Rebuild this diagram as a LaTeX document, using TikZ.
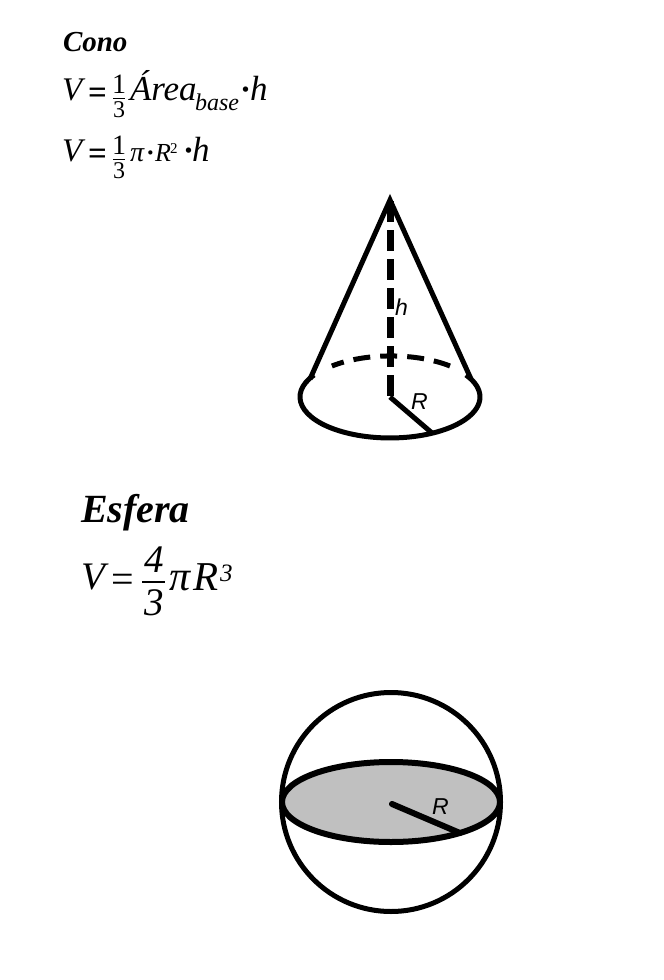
\documentclass[tikz,border=0pt]{standalone}
\usepackage{fontspec}
\setmainfont{Liberation Serif}
\newfontfamily\lsans{Liberation Sans}
\newcommand{\fs}[1]{\fontsize{#1}{#1}\selectfont}
\tikzset{
 txt/.style={inner sep=0pt,outer sep=0pt,anchor=base west},
 ser/.style={txt,font=\fs{#1}\itshape},
 upr/.style={txt,font=\fs{#1}},
 bld/.style={txt,font=\fs{#1}\bfseries},
 lab/.style={txt,font=\fs{#1}\lsans\itshape},
 solid line/.style={line width=5pt,black},
 hidden dash/.style={line width=5pt,black,dash pattern=on 17pt off 10pt},
 axis dash/.style={line width=7pt,black,dash pattern=on 21pt off 8pt},
 frac rule/.style={line width=1pt,black}
}
\begin{document}
\begin{tikzpicture}[x=1pt,y=-1pt]
\useasboundingbox (0,0) rectangle (664,980);
% Cono
\node[txt,font=\fs{29}\bfseries\itshape] (tcono) at (63,51) {Cono};
\node[ser=33] (v1) at (62,100) {V};
\node[bld=33] (e1) at (88,103) {=};
\node[upr=28] (n1) at (112,93) {1};
\node[upr=24] (d1) at (113,117) {3};
\coordinate (r1a) at (113,98); \coordinate (r1b) at (125,98);
\draw[frac rule] (r1a) -- (r1b);
\node[ser=35] (a1) at (130,100) {Área};
\node[ser=24] (b1) at (195,110) {base};
\node[bld=33] (dot1) at (240,100) {·};
\node[ser=35] (h1) at (250,100) {h};
\node[ser=33] (v2) at (62,161) {V};
\node[bld=33] (e2) at (88,164) {=};
\node[upr=28] (n2) at (112,154) {1};
\node[upr=24] (d2) at (113,178) {3};
\coordinate (r2a) at (113,159); \coordinate (r2b) at (125,159);
\draw[frac rule] (r2a) -- (r2b);
\node[ser=28] (p2) at (130,161) {π};
\node[bld=26] (dot2) at (146,161) {·};
\node[ser=26] (r2) at (155,161) {R};
\node[upr=15] (s2) at (170,153) {2};
\node[bld=33] (dot3) at (183,161) {·};
\node[ser=35] (h2) at (192,161) {h};
% Cone
\coordinate (apex) at (390,200);
\coordinate (axend) at (390,396);
\coordinate (cc) at (390,397);
\coordinate (cl) at (314,375);
\coordinate (ds) at (450,366);
\coordinate (cR) at (432,433);
\draw[hidden dash] (ds) arc[start angle=-49,end angle=-131,x radius=90,y radius=41];
\draw[axis dash] (apex) ++(0,1) -- (axend);
\draw[solid line,line join=miter] (310,379) -- (apex) -- (471,379);
\draw[solid line] (cl) arc[start angle=212.4,end angle=-32.4,x radius=90,y radius=41];
\draw[solid line] (cc) -- (cR);
\node[lab=23] (th) at (395,315) {h};
\node[lab=23] (tR1) at (411,409) {R};
% Esfera
\node[txt,font=\fs{40}\bfseries\itshape] (tesf) at (81,522) {Esfera};
\node[ser=39] (v3) at (81,589) {V};
\node[upr=40] (e3) at (111,592) {=};
\node[ser=39] (n3) at (144,572) {4};
\node[ser=39] (d3) at (144,615) {3};
\coordinate (r3a) at (142,582); \coordinate (r3b) at (165,582);
\draw[frac rule,line width=1.3pt] (r3a) -- (r3b);
\node[ser=42] (p3) at (169,590) {π};
\node[ser=41] (r3) at (193,590) {R};
\node[ser=25] (s3) at (220,581) {3};
% Sphere
\coordinate (sc) at (391,802);
\coordinate (sR) at (460,833);
\coordinate (sR0) at (392,804);
\draw[line width=5pt,black] (sc) circle[radius=109.5];
\draw[line width=6pt,fill={rgb,255:red,192;green,192;blue,192}] (sc) ellipse[x radius=109,y radius=40];
\draw[line width=6pt,line cap=round,black] (sR0) -- (sR);
\node[lab=23] (tR2) at (432,814) {R};
\end{tikzpicture}
\end{document}
